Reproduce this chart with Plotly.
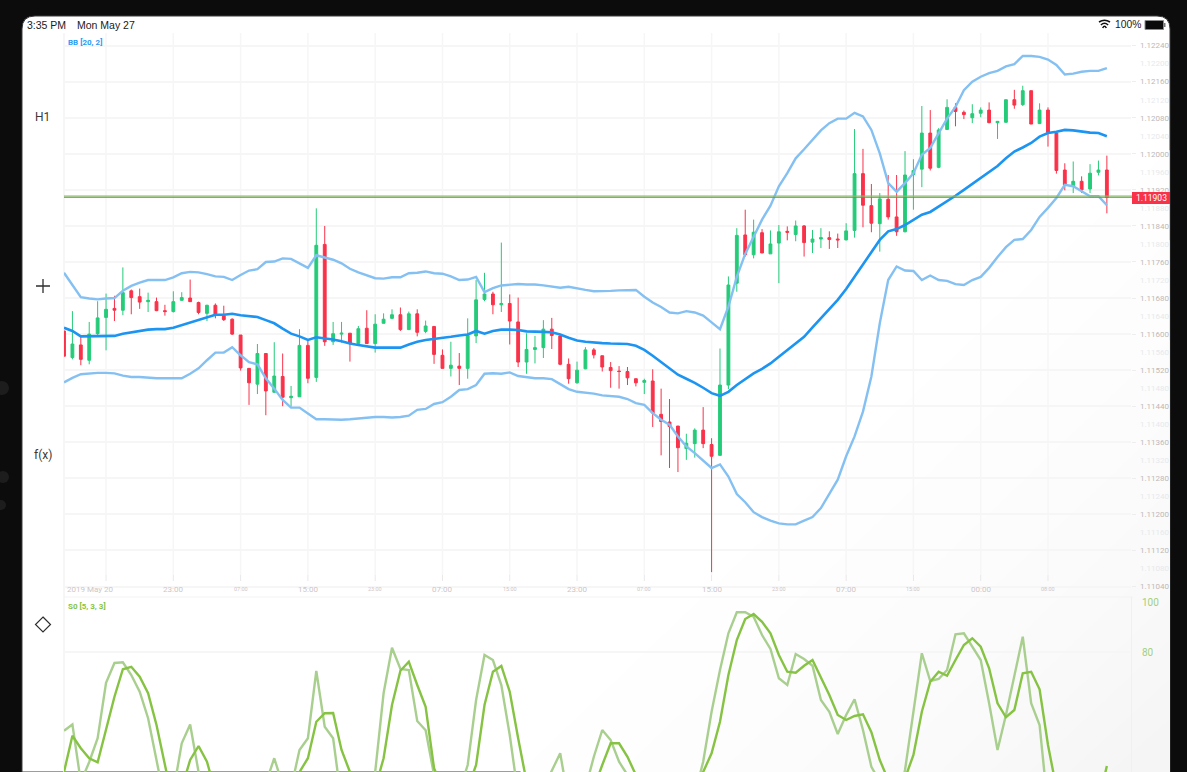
import plotly.graph_objects as go

W, H = 1187, 772

# --- price data, in 1e-5 price units ---
open_pts = [111607,111548,111576,111542,111601,111637,111657,111653,111696,111683,
111672,111672,111652,111650,111675,111680,111670,111646,111664,111641,
111633,111598,111524,111489,111557,111471,111506,111459,111461,111575,
111504,111799,111583,111600,111602,111579,111613,111579,111624,111635,
111643,111610,111645,111606,111617,111553,111524,111529,111524,111596,
111677,111689,111665,111668,111627,111538,111566,111570,111611,111596,
111533,111492,111523,111565,111552,111526,111518,111517,111501,111493,
111496,111422,111405,111396,111346,111357,111387,111355,111331,111487,
111713,111820,111776,111825,111778,111802,111828,111821,111840,111804,
111811,111814,111811,111809,111830,111956,111885,111845,111899,111860,
111827,111954,111966,112046,111970,112054,112103,112092,112080,112090,
112097,112069,112070,112120,112109,112140,112067,112097,112046,111964,
111928,111939,111922,111959,111964]
close_pts = [111551,111578,111544,111600,111636,111655,111653,111692,111681,111671,
111675,111652,111650,111672,111681,111672,111648,111664,111644,111632,
111600,111525,111492,111557,111474,111507,111460,111462,111575,111502,
111797,111583,111601,111602,111579,111612,111579,111622,111633,111643,
111610,111645,111604,111618,111555,111524,111531,111524,111597,111676,
111689,111665,111668,111629,111538,111566,111570,111611,111597,111533,
111501,111520,111565,111554,111527,111519,111517,111503,111492,111497,
111425,111406,111395,111348,111358,111387,111357,111329,111487,111709,
111819,111776,111826,111780,111800,111827,111826,111840,111803,111811,
111814,111810,111809,111829,111956,111886,111846,111900,111860,111827,
111953,111963,112046,111968,112053,112103,112094,112087,112089,112097,
112069,112072,112120,112108,112140,112066,112097,112047,111963,111931,
111939,111920,111957,111964,111903]
high_pts = [111607,111651,111594,111627,111673,111690,111685,111748,111699,111701,
111692,111681,111665,111695,111693,111721,111672,111665,111668,111663,
111635,111598,111524,111578,111557,111582,111557,111485,111611,111587,
111879,111840,111627,111627,111602,111618,111653,111644,111646,111655,
111659,111650,111655,111630,111618,111566,111583,111558,111635,111720,
111736,111694,111803,111688,111681,111602,111596,111631,111636,111600,
111546,111539,111571,111569,111552,111538,111529,111527,111501,111501,
111522,111479,111456,111396,111379,111391,111438,111369,111568,111728,
111835,111876,111854,111833,111830,111842,111839,111852,111842,111831,
111835,111828,111823,111846,112055,112011,111933,111913,111953,111953,
112006,111988,112106,112097,112057,112121,112112,112096,112110,112103,
112114,112072,112120,112142,112151,112140,112112,112103,112049,111979,
111983,111950,111977,111985,111996]
low_pts = [111551,111544,111531,111533,111595,111564,111629,111642,111644,111656,
111649,111651,111641,111648,111674,111672,111644,111629,111635,111629,
111598,111519,111443,111467,111420,111470,111440,111439,111461,111491,
111494,111574,111576,111581,111539,111578,111578,111559,111624,111633,
111607,111609,111595,111602,111534,111524,111506,111487,111501,111580,
111673,111644,111649,111577,111527,111512,111535,111547,111567,111531,
111490,111490,111522,111546,111517,111481,111479,111487,111484,111467,
111394,111331,111303,111294,111321,111326,111347,111072,111330,111478,
111694,111772,111768,111780,111778,111713,111808,111806,111772,111780,
111791,111789,111791,111808,111814,111837,111826,111783,111854,111818,
111826,111876,111926,111963,111968,112053,112061,112077,112068,112081,
112068,112033,112069,112100,112106,112066,112066,112016,111956,111919,
111913,111913,111913,111952,111868]

bb_upper_pts = [111736,111709,111682,111679,111677,111679,111680,111696,111707,111714,
111720,111720,111720,111726,111735,111738,111737,111733,111728,111727,
111720,111731,111741,111744,111760,111761,111768,111767,111757,111747,
111775,111770,111765,111757,111745,111737,111730,111724,111723,111726,
111726,111735,111736,111739,111735,111734,111728,111720,111721,111727,
111693,111702,111708,111709,111711,111710,111710,111708,111705,111703,
111705,111701,111698,111695,111695,111696,111697,111697,111698,111683,
111670,111660,111648,111646,111651,111648,111641,111626,111611,111661,
111727,111778,111817,111854,111885,111928,111957,111990,112010,112031,
112052,112068,112078,112078,112091,112083,112053,112001,111935,111916,
111935,111957,111998,112013,112045,112078,112104,112141,112160,112171,
112179,112184,112194,112199,112217,112217,112215,112209,112197,112176,
112178,112182,112184,112184,112190]
bb_middle_pts = [111614,111607,111595,111595,111595,111595,111596,111601,111604,111607,
111610,111611,111611,111614,111620,111626,111632,111638,111643,111643,
111645,111642,111640,111638,111631,111624,111612,111601,111595,111587,
111593,111591,111588,111584,111579,111576,111573,111570,111570,111570,
111570,111577,111583,111587,111589,111591,111594,111597,111599,111607,
111601,111607,111610,111610,111609,111606,111606,111605,111604,111599,
111592,111586,111583,111581,111580,111579,111578,111578,111574,111565,
111552,111538,111523,111510,111501,111492,111481,111469,111463,111472,
111487,111500,111513,111523,111535,111550,111565,111580,111594,111615,
111635,111655,111676,111700,111727,111755,111781,111809,111828,111833,
111842,111854,111865,111871,111883,111894,111907,111920,111933,111946,
111961,111973,111990,112005,112014,112024,112038,112046,112049,112053,
112052,112049,112047,112046,112039]
bb_lower_pts = [111493,111503,111511,111513,111514,111514,111513,111508,111505,111505,
111503,111502,111502,111502,111502,111512,111524,111542,111559,111559,
111571,111553,111538,111533,111502,111479,111454,111437,111437,111424,
111411,111411,111410,111410,111411,111413,111414,111416,111416,111415,
111416,111419,111432,111434,111445,111449,111461,111476,111478,111487,
111512,111513,111512,111515,111507,111504,111502,111502,111500,111489,
111478,111472,111470,111468,111464,111463,111461,111456,111447,111443,
111425,111410,111399,111373,111351,111336,111320,111303,111311,111284,
111245,111227,111205,111194,111186,111180,111178,111178,111186,111194,
111214,111244,111277,111329,111373,111428,111506,111624,111720,111750,
111741,111740,111720,111730,111720,111718,111711,111709,111720,111727,
111747,111771,111793,111809,111811,111831,111860,111880,111902,111931,
111928,111917,111906,111906,111886]

stoch_k = [48.5,51,28,36,45.5,67.7,75.6,75.9,70.8,64.1,
53.5,34.8,20,24,43.5,51,32,22,18,16,
15,18,20,24,27.5,37.5,26.8,25.5,40.8,45.5,
72.4,50.1,45.5,20.1,16,15,18,32,63.5,81.7,
73.2,72.8,52.4,48.7,30.8,18,15,24.1,34.8,60.8,
78.8,76.8,66.8,46.8,22.8,15,16,25.5,32.8,39.5,
20.1,16,25.5,38.1,48.8,44.8,36.1,30.8,20,14,
12,12,12,14,16,22.8,36.1,56.1,72.8,87.5,
95.9,95.9,94.1,86.8,81.2,69.5,66.8,79.2,77.2,74.5,
60.8,56.1,47.2,54.8,61.1,48.8,34.1,28.1,22,18,
32.8,56.1,79.5,68.4,69.2,72.8,87.1,87.5,82.1,76.8,
59.5,40.8,54.8,70.8,86.1,59.5,50.8,17.5,12,8,
6,6,8,10,26]
stoch_d = [32,46.5,41.5,37.5,35.9,48.8,62.1,73.1,74.1,70.1,
63.5,50.8,33.5,19,25.5,36.8,42.4,36.1,24.1,19,
16,15,15,16,18,20,22,24,32,37.5,
52.1,55.5,55.6,40.8,32,24,20,25.5,37.5,58.8,
72.5,76.1,66.8,58.1,33.5,25.5,18,16,25.5,34.8,
58.8,72.1,74.4,64.1,45.5,28.1,20,18,24,24,
20,18,20,25.5,34.8,43.5,43.5,38.1,30.8,22,
16,14,14,15,16,20,32,39.5,52.1,70.8,
84.8,93.2,95.2,92.1,87.5,78.8,72.1,71.7,74.5,76.8,
70.1,62.8,54.8,52.8,54.4,55.1,47.9,36.8,28.8,22,
29.5,38.8,56.1,68.1,72.1,70.5,76.8,82.8,85.5,82.1,
73.5,59.5,53.9,56.8,71.5,72.1,65.1,42.8,25.5,16,
10,8,10,20,34.4]

price_labels = ["1.12240","1.12200","1.12160","1.12120","1.12080","1.12040","1.12000","1.11960",
                "1.11920","1.11880","1.11840","1.11800","1.11760","1.11720","1.11680","1.11640",
                "1.11600","1.11560","1.11520","1.11480","1.11440","1.11400","1.11360","1.11320",
                "1.11280","1.11240","1.11200","1.11160","1.11120","1.11080","1.11040"]
time_index = [5,13,21,29,37,45,53,61,69,77,85,93,101,109,117]
time_labels = ["2019 May 20","23:00","07:00","15:00","23:00","07:00","15:00","23:00",
               "07:00","15:00","23:00","07:00","15:00","00:00","08:00"]
time_sizes = [8,8,5.5,8,5.5,8,5.5,8,5.5,8,5.5,8,5.5,8,5.5]
current_price = 1.11903
stoch_ticks = [100, 80]

GREEN, RED = "#25cb79", "#f9324a"
GRID = "#f6f6f6"
FONT = "Roboto, sans-serif"

def px(x): return x / W
def py(y): return 1 - y / H
def pt(x, y): return f"{px(x):.5f},{py(y):.5f}"

x_idx = list(range(len(open_pts)))
to_price = lambda a: [v / 1e5 for v in a]

fig = go.Figure()
fig.add_trace(go.Candlestick(
    x=x_idx, open=to_price(open_pts), high=to_price(high_pts), low=to_price(low_pts), close=to_price(close_pts),
    increasing=dict(line=dict(color=GREEN, width=1), fillcolor=GREEN),
    decreasing=dict(line=dict(color=RED, width=1), fillcolor=RED),
    whiskerwidth=0, showlegend=False, xaxis="x", yaxis="y"))
for vals, col, lw in [(bb_upper_pts, "#84c0f2", 2.4), (bb_lower_pts, "#84c0f2", 2.4), (bb_middle_pts, "#1c94f2", 2.6)]:
    fig.add_trace(go.Scatter(x=x_idx, y=to_price(vals), mode="lines", line=dict(color=col, width=lw),
                             showlegend=False, xaxis="x", yaxis="y"))
fig.add_trace(go.Scatter(x=x_idx, y=stoch_k, mode="lines", line=dict(color="#a9cf8f", width=2.4),
                         showlegend=False, xaxis="x2", yaxis="y2"))
fig.add_trace(go.Scatter(x=x_idx, y=stoch_d, mode="lines", line=dict(color="#86c342", width=2.4),
                         showlegend=False, xaxis="x2", yaxis="y2"))

shapes = []
# device screen on black
r = 13
screen = (f"M {pt(22,772)} L {pt(22,16+r)} Q {pt(22,16)} {pt(22+r,16)} L {pt(1170-r,16)} "
          f"Q {pt(1170,16)} {pt(1170,16+r)} L {pt(1170,772)} Z")
shapes.append(dict(type="path", xref="paper", yref="paper", path=screen, fillcolor="#ffffff",
                   line=dict(color="#3a3a3a", width=1), layer="below"))
# soft shading toward the lower right corner of the screen
for x1, y1, col in [(520, 150, "#fefefe"), (620, 240, "#fdfdfd"), (720, 340, "#fcfcfc"), (800, 420, "#fbfbfb"),
                    (880, 490, "#fafafa"), (940, 550, "#f9f9f9"), (990, 600, "#f8f8f8"), (1030, 640, "#f7f7f7"),
                    (1070, 680, "#f6f6f6"), (1110, 720, "#f5f5f5")]:
    shapes.append(dict(type="path", xref="paper", yref="paper",
                       path=f"M {pt(x1,772)} L {pt(1169.5,y1)} L {pt(1169.5,772)} Z",
                       fillcolor=col, line=dict(width=0), layer="below"))
# side dots on the bezel
for cx, cy, rad in [(2, 388, 7), (3, 477, 6), (1, 505, 5)]:
    shapes.append(dict(type="circle", xref="paper", yref="paper", x0=px(cx-rad), x1=px(cx+rad),
                       y0=py(cy+rad), y1=py(cy-rad), fillcolor="#1d1d1d", line=dict(width=0), layer="below"))
# vertical grid through the price panel, with its tick below
for i in time_index:
    shapes.append(dict(type="line", xref="x", yref="paper", x0=i, x1=i, y0=py(575), y1=py(33),
                       line=dict(color=GRID, width=1.5), layer="below"))
    shapes.append(dict(type="line", xref="x", yref="paper", x0=i, x1=i, y0=py(581), y1=py(575),
                       line=dict(color="#e8e8e8", width=1), layer="below"))
# panel frame
shapes.append(dict(type="line", xref="paper", yref="paper", x0=px(64), x1=px(64), y0=py(772), y1=py(33),
                   line=dict(color="#f3f3f3", width=1.5), layer="below"))
shapes.append(dict(type="line", xref="paper", yref="paper", x0=px(64), x1=px(1133), y0=py(597), y1=py(597),
                   line=dict(color="#f3f3f3", width=1), layer="below"))
# last price lines and tag
shapes.append(dict(type="line", xref="paper", yref="y", x0=px(64), x1=px(1133), y0=current_price, y1=current_price,
                   line=dict(color="#e2525f", width=0.8), layer="above"))
shapes.append(dict(type="line", xref="paper", yref="y", x0=px(64), x1=px(1133), y0=current_price + 0.00003, y1=current_price + 0.00003,
                   line=dict(color="#86b868", width=1.2), layer="above"))
shapes.append(dict(type="rect", xref="paper", yref="paper", x0=px(1132), x1=px(1170), y0=py(204), y1=py(192),
                   fillcolor="#f9324a", line=dict(width=0), layer="above"))
# left tool glyphs
ink = "#2e2e2e"
shapes.append(dict(type="path", xref="paper", yref="paper", path=f"M {pt(36,286)} L {pt(50,286)} M {pt(43,279)} L {pt(43,293)}",
                   line=dict(color=ink, width=1.3)))
shapes.append(dict(type="path", xref="paper", yref="paper",
                   path=f"M {pt(43,617)} L {pt(50.5,624.5)} L {pt(43,632)} L {pt(35.5,624.5)} Z",
                   line=dict(color=ink, width=1.2), fillcolor="rgba(0,0,0,0)"))
# status bar: wifi and battery
for dy, half, lw in [(0, 5.5, 1.6), (3, 3.6, 1.6), (6, 1.8, 1.6)]:
    shapes.append(dict(type="path", xref="paper", yref="paper",
                       path=f"M {pt(1104.5-half,22+dy)} Q {pt(1104.5,18.5+dy)} {pt(1104.5+half,22+dy)}",
                       line=dict(color="#111111", width=lw)))
shapes.append(dict(type="rect", xref="paper", yref="paper", x0=px(1145), x1=px(1163.5), y0=py(29.5), y1=py(20.5),
                   fillcolor="#0a0a0a", line=dict(color="#8a8a8a", width=1)))
shapes.append(dict(type="rect", xref="paper", yref="paper", x0=px(1164), x1=px(1165.5), y0=py(27), y1=py(23),
                   fillcolor="#777777", line=dict(width=0)))

def ann(text, x, y, size, color, anchor="left", family=FONT, xref="paper", xshift=0):
    return dict(text=text, x=x, y=py(y), xref=xref, yref="paper", showarrow=False, xanchor=anchor, yanchor="middle",
                xshift=xshift, font=dict(size=size, color=color, family=family))

SYS = "Liberation Sans, Arial, sans-serif"
annotations = [
    ann("3:35 PM", px(25), 24.5, 10.5, "#1a1a1a", family=SYS),
    ann("Mon May 27", px(75), 24.5, 10.5, "#1a1a1a", family=SYS),
    ann("100%", px(1113), 24.5, 10.3, "#1a1a1a", family=SYS),
    ann("H1", px(33), 117, 12, "#3a3a3a"),
    ann("f(x)", px(32), 455, 12, "#3a3a3a"),
    ann("<b>BB [20, 2]</b>", px(66), 43, 8, "#2b9bf4"),
    ann("<b>S0 [5, 3, 3]</b>", px(66), 606, 8, "#86c342"),
    ann(f"{current_price:.5f}", px(1151.5), 198, 8.5, "#ffffff", anchor="center"),
]
for i, (ix, lab, sz) in enumerate(zip(time_index, time_labels, time_sizes)):
    annotations.append(ann(lab, ix, 589, sz, "#cdc6c9", anchor="center", xref="x", xshift=-16 if i == 0 else 0))

x_dom = [px(64), px(1131)]
price_vals = [float(s) for s in price_labels]
price_text = [f'<span style="color:{"#bdb8b9" if i % 2 == 0 else "#e6e9ec"}">{s}</span>' for i, s in enumerate(price_labels)]
stoch_text = [str(v) for v in stoch_ticks]

fig.update_layout(
    width=W, height=H, margin=dict(l=0, r=0, t=0, b=0), autosize=False,
    paper_bgcolor="#0c0c0c", plot_bgcolor="rgba(0,0,0,0)", showlegend=False, boxgap=0.52,
    font=dict(family=FONT),
    shapes=shapes, annotations=annotations,
    xaxis=dict(domain=x_dom, range=[0, 126.87], showgrid=False, zeroline=False, showticklabels=False,
               ticks="", rangeslider=dict(visible=False), anchor="y", fixedrange=True),
    yaxis=dict(domain=[py(596), py(33)], range=[1.11019, 1.12268], side="right", anchor="x",
               tickmode="array", tickvals=price_vals, ticktext=price_text, showgrid=False, zeroline=False,
               ticks="", ticklabelstandoff=8, tickfont=dict(size=8, family=FONT),
               minor=dict(tickmode="array", tickvals=price_vals[::2], showgrid=True, gridcolor=GRID, gridwidth=1.5,
                          ticks="outside", ticklen=4, tickcolor="#eeeeee", tickwidth=1),
               fixedrange=True),
    xaxis2=dict(domain=x_dom, range=[0, 126.87], showgrid=False, zeroline=False, showticklabels=False,
                ticks="", anchor="y2", fixedrange=True),
    yaxis2=dict(domain=[0, py(597)], range=[32, 102], side="right", anchor="x2",
                tickmode="array", tickvals=stoch_ticks, ticktext=stoch_text, showgrid=False, zeroline=False,
                ticks="", ticklabelstandoff=8, tickfont=dict(size=10, color="#a3cf7c", family=FONT),
                showline=True, linecolor="#f0f0f0", linewidth=1,
                minor=dict(tickmode="array", tickvals=[80], showgrid=True, gridcolor=GRID, gridwidth=1.5),
                fixedrange=True),
)

fig.write_html("out.html", config=dict(displayModeBar=False),
               post_script="document.body.style.margin='0';document.body.style.background='#0c0c0c';document.documentElement.style.overflow='hidden';")
